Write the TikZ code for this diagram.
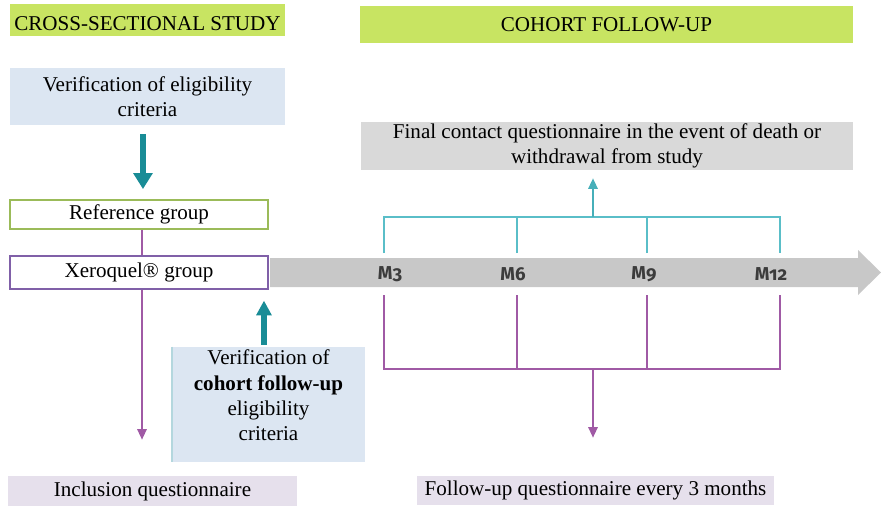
\documentclass[tikz,border=0pt]{standalone}
\usepackage{fontspec}
\setmainfont{Liberation Serif}
\newfontfamily\mfont[Numbers=OldStyle]{Fira Sans}
\usetikzlibrary{arrows.meta}
\definecolor{tgreen}{RGB}{200,228,98}
\definecolor{lblue}{RGB}{220,230,242}
\definecolor{lav}{RGB}{230,224,236}
\definecolor{fgray}{RGB}{217,217,217}
\definecolor{bandgray}{RGB}{200,200,200}
\definecolor{refgreen}{RGB}{155,187,89}
\definecolor{xpurple}{RGB}{128,96,168}
\definecolor{pline}{RGB}{160,90,165}
\definecolor{tline}{RGB}{90,190,200}
\definecolor{tdark}{RGB}{25,140,150}
\definecolor{mgray}{RGB}{60,60,60}
\definecolor{bedge}{RGB}{180,215,222}
\begin{document}
\begin{tikzpicture}[x=0.75pt,y=-0.75pt,
  font=\fontsize{15.8pt}{19pt}\selectfont,
  sz/.style 2 args={minimum width=#1*0.75pt, minimum height=#2*0.75pt, inner sep=0pt},
  titlebox/.style={fill=tgreen, align=center},
  bluebox/.style={fill=lblue, align=center},
  lavbox/.style={fill=lav, align=center},
  graybox/.style={fill=fgray, align=center},
  groupbox/.style={fill=white, line width=1.4pt, align=center},
  mlab/.style={font=\mfont\bfseries\fontsize{14pt}{16pt}\selectfont, text=mgray, inner sep=0pt},
  thick arrow/.style={draw=tdark, line width=4.5pt, -{Triangle[width=14pt,length=12pt]}},
  tealline/.style={draw=tline, line width=1.6pt},
  purpleline/.style={draw=pline, line width=1.5pt},
  parrow/.style={-{Triangle[width=7pt,length=8pt]}},
]
\useasboundingbox (0,0) rectangle (881,506);

% timeline band
\fill[bandgray] (270,258) -- (858,258) -- (858,250) -- (881,272.5) -- (858,295) -- (858,287) -- (270,287) -- cycle;

% boxes
\node[titlebox, sz={275}{32}] (t1) at (147.5,20) {\raisebox{-2.5pt}[\height][\depth]{CROSS-SECTIONAL STUDY}};
\node[titlebox, sz={493}{37}] (t2) at (606.5,25) {COHORT FOLLOW-UP};
\node[bluebox, sz={275}{57}] (v1) at (147.5,96.5) {Verification of eligibility\\criteria};
\node[groupbox, draw=refgreen, sz={258}{29}] (ref) at (139,214.5) {Reference group};
\node[groupbox, draw=xpurple, sz={258}{33}] (xq) at (139,272.5) {Xeroquel® group};
\node[fill=lblue, sz={193}{115}] (v2) at (268.5,404.5)
  {\raisebox{5pt}[\height][\depth]{\begin{tabular}{@{}c@{}}Verification of\\\textbf{cohort follow-up}\\eligibility\\criteria\end{tabular}}};
\draw[bedge, line width=1.5pt] (v2.north west) -- (v2.south west);
\node[lavbox, sz={289}{30}] (incl) at (152.5,491) {Inclusion questionnaire};
\node[graybox, sz={492}{48}] (fin) at (607,146) {Final contact questionnaire in the event of death or\\withdrawal from study};
\node[lavbox, sz={357}{29}] (fu) at (595.5,490.5) {Follow-up questionnaire every 3 months};

% month labels
\node[mlab] (m3) at (390,274) {M3};
\node[mlab] (m6) at (513,274) {M6};
\node[mlab] (m9) at (644,274) {M9};
\node[mlab] (m12) at (771,274) {M12};

% left column connectors
\draw[thick arrow, shorten <=6.75pt, shorten >=7.5pt] ([xshift=-3.4pt]v1.south) -- ([xshift=-3.4pt]v1.south |- ref.north);
\draw[purpleline] ([xshift=2.25pt]ref.south) -- ([xshift=2.25pt]xq.north);
\draw[purpleline, parrow, shorten >=27pt] ([xshift=2.25pt]xq.south) -- ([xshift=2.25pt]xq.south |- incl.north);
\draw[draw=tdark, line width=4pt, -{Triangle[width=11pt,length=11pt]}, shorten <=1.5pt, shorten >=8pt] ([xshift=-3.4pt]v2.north) -- ([xshift=-3.4pt]v2.north |- xq.south);

% teal bracket
\coordinate (tb3) at (384,253); \coordinate (tt3) at (384,217);
\coordinate (tb6) at (517,253); \coordinate (tt6) at (517,217);
\coordinate (tb9) at (647,253); \coordinate (tt9) at (647,217);
\coordinate (tb12) at (780,253); \coordinate (tt12) at (780,217);
\coordinate (tm) at (593,217);
\draw[tealline] (tb3) -- (tt3) -- (tt12) -- (tb12);
\draw[tealline] (tb6) -- (tt6);
\draw[tealline] (tb9) -- (tt9);
\draw[tealline, draw=tline!70!tdark, -{Triangle[width=7pt,length=8pt]}, shorten >=6pt] (tm) -- (tm |- fin.south);

% purple bracket
\coordinate (pt3) at (384,295); \coordinate (pb3) at (384,369);
\coordinate (pt6) at (517,295); \coordinate (pb6) at (517,369);
\coordinate (pt9) at (647,295); \coordinate (pb9) at (647,369);
\coordinate (pt12) at (780,295); \coordinate (pb12) at (780,369);
\coordinate (pm) at (593,369);
\draw[purpleline] (pt3) -- (pb3) -- (pb12) -- (pt12);
\draw[purpleline] (pt6) -- (pb6);
\draw[purpleline] (pt9) -- (pb9);
\draw[purpleline, parrow, shorten >=28.5pt] (pm) -- (pm |- fu.north);
\end{tikzpicture}
\end{document}
